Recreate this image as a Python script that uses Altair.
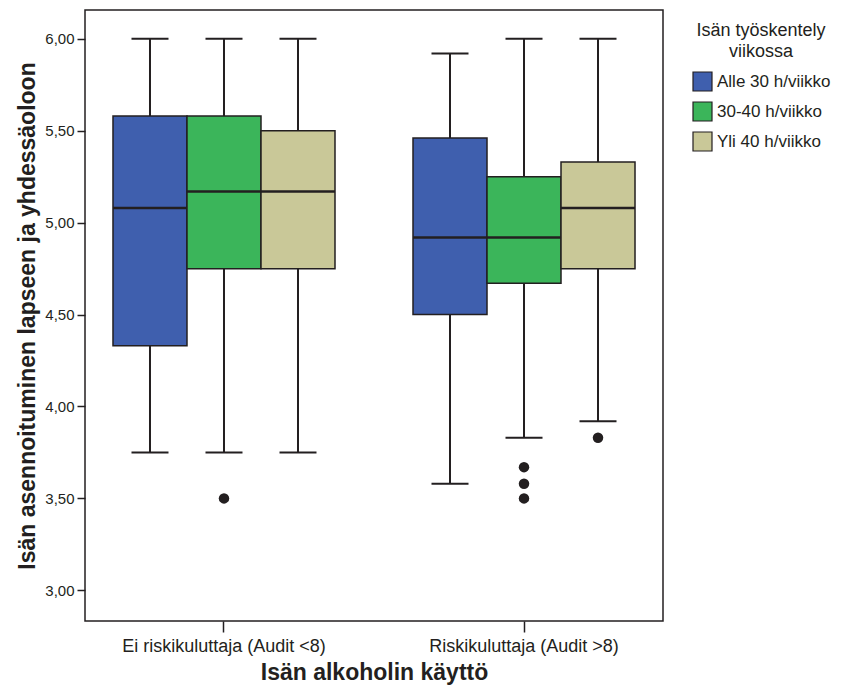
import altair as alt
import pandas as pd

groups = ["Ei riskikuluttaja (Audit <8)", "Riskikuluttaja (Audit >8)"]
series = ["Alle 30 h/viikko", "30-40 h/viikko", "Yli 40 h/viikko"]
colors = ["#3F5FAE", "#3BB55A", "#C9C898"]

# per group, per series (order as in `series`)
w_low = [[3.75, 3.75, 3.75], [3.58, 3.83, 3.92]]
q1 = [[4.33, 4.75, 4.75], [4.50, 4.67, 4.75]]
med = [[5.08, 5.17, 5.17], [4.92, 4.92, 5.08]]
q3 = [[5.58, 5.58, 5.50], [5.46, 5.25, 5.33]]
w_high = [[6.00, 6.00, 6.00], [5.92, 6.00, 6.00]]

out_group = [groups[0], groups[1], groups[1], groups[1], groups[1]]
out_series = [series[1], series[1], series[1], series[1], series[2]]
out_value = [3.50, 3.67, 3.58, 3.50, 3.83]

rows = []
for gi, g in enumerate(groups):
    for si, s in enumerate(series):
        rows.append(dict(group=g, series=s, low=w_low[gi][si], q1=q1[gi][si],
                         med=med[gi][si], q3=q3[gi][si], high=w_high[gi][si]))
df = pd.DataFrame(rows)
dfo = pd.DataFrame(dict(group=out_group, series=out_series, value=out_value))

yscale = alt.Scale(domain=[2.833, 6.157], nice=False, zero=False)
xscale = alt.Scale(paddingInner=0.26, paddingOuter=0.0933)
xo_scale = alt.Scale(domain=series, paddingInner=0, paddingOuter=0)

X = alt.X("group:N", scale=xscale, sort=groups,
          axis=alt.Axis(title="Isän alkoholin käyttö", labelAngle=0, domain=False,
                        tickSize=11, tickWidth=1.5, tickColor="#231f20",
                        labelFontSize=18, labelPadding=5, labelLimit=0, titleFontSize=23,
                        titleFontWeight="bold", titlePadding=6, labelColor="#231f20",
                        titleColor="#231f20"))
XO = alt.XOffset("series:N", scale=xo_scale, sort=series)
Y_axis = alt.Axis(title="Isän asennoituminen lapseen ja yhdessäoloon",
                  values=[3.0, 3.5, 4.0, 4.5, 5.0, 5.5, 6.0],
                  labelExpr="replace(format(datum.value, '.2f'), '.', ',')",
                  domain=False, grid=False, tickSize=8, tickWidth=1.5, tickColor="#231f20",
                  labelFontSize=15, labelPadding=3, titleFontSize=23,
                  titleFontWeight="bold", titlePadding=5, labelColor="#231f20",
                  titleColor="#231f20")

base = alt.Chart(df)

whisker = base.mark_rule(color="#231f20", strokeWidth=2).encode(
    x=X, xOffset=XO,
    y=alt.Y("low:Q", scale=yscale, axis=Y_axis),
    y2="high:Q",
)
caps_low = base.mark_tick(color="#231f20", size=37, thickness=2, orient="horizontal", opacity=1).encode(
    x=X, xOffset=XO, y=alt.Y("low:Q", scale=yscale))
caps_high = base.mark_tick(color="#231f20", size=37, thickness=2, orient="horizontal", opacity=1).encode(
    x=X, xOffset=XO, y=alt.Y("high:Q", scale=yscale))
box = base.mark_bar(stroke="#231f20", strokeWidth=1.5, opacity=1).encode(
    x=X, xOffset=XO,
    y=alt.Y("q1:Q", scale=yscale),
    y2="q3:Q",
    color=alt.Color("series:N", sort=series,
                    scale=alt.Scale(domain=series, range=colors),
                    legend=alt.Legend(
                        title=["Isän työskentely", "viikossa"],
                        orient="none", legendX=607, legendY=12,
                        titleFontSize=18, titleFontWeight="normal",
                        titleLineHeight=21, titleAnchor="middle", titleAlign="center",
                        titlePadding=10, titleColor="#231f20",
                        labelFontSize=17, labelColor="#231f20", labelOffset=4,
                        symbolType="square", symbolSize=361,
                        symbolStrokeColor="#231f20", symbolStrokeWidth=1.2,
                        symbolOpacity=1, rowPadding=5)),
)
median = base.mark_tick(color="#231f20", size=74, thickness=2.5, orient="horizontal", opacity=1).encode(
    x=X, xOffset=XO, y=alt.Y("med:Q", scale=yscale))
outl = alt.Chart(dfo).mark_point(filled=True, color="#231f20", size=110, opacity=1).encode(
    x=X, xOffset=XO, y=alt.Y("value:Q", scale=yscale))

chart = alt.layer(whisker, caps_low, caps_high, box, median, outl).properties(
    width=578, height=611,
    autosize=alt.AutoSizeParams(type="none"),
    padding={"left": 77, "top": 2, "right": 170, "bottom": 66},
).configure(
    font="Liberation Sans",
    view=alt.ViewConfig(stroke="#231f20", strokeWidth=1.5),
)

chart.save("out.html", embed_options={"renderer": "svg", "actions": False})
